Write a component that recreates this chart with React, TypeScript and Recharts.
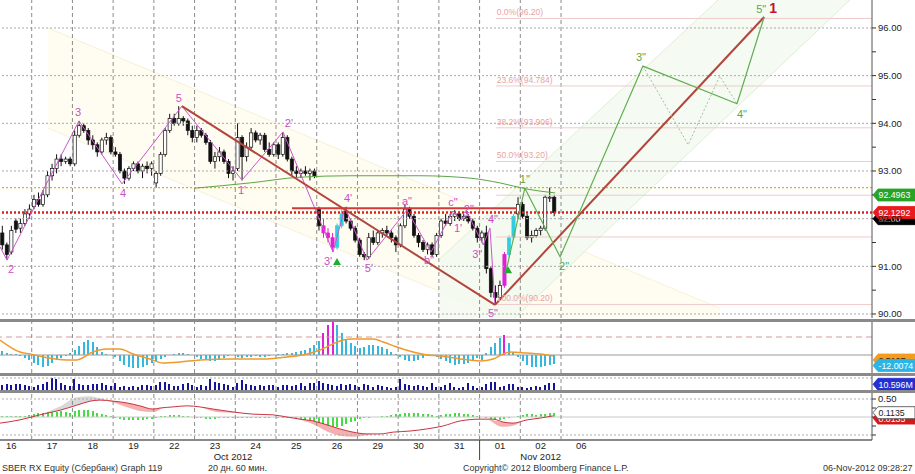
import React from "react";
import {
  ComposedChart,
  Bar,
  Line,
  Area,
  XAxis,
  YAxis,
  ReferenceLine,
  ReferenceDot,
} from "recharts";

// x unit = one hourly bar ("slot"), 9 bars per session, slot 0 = first bar of 16 Oct
const dayLabels = ["16", "17", "18", "19", "22", "23", "24", "25", "26", "29", "30", "31", "01", "02", "06"];
const monthLabels = [
  { x: 53, t: "Oct 2012" },
  { x: 121, t: "Nov 2012" },
];
const MONTH_SPLIT = 107.5;
const FIRST_SLOT = 2;
const X_DOMAIN: [number, number] = [1.49, 194.24];

// open, high, low, close per hourly bar (slots 2..124)
const ohlc: number[][] = [
  [91.7, 91.85, 91.35, 91.45], [91.45, 91.5, 91.14, 91.25], [91.3, 91.85, 91.25, 91.75], [91.95, 92.0, 91.7, 91.78],
  [91.8, 92.0, 91.7, 91.9], [91.9, 92.2, 91.85, 92.1], [92.1, 92.3, 92.0, 92.2],
  [92.25, 92.5, 92.2, 92.4], [92.4, 92.55, 92.25, 92.3], [92.3, 92.6, 92.25, 92.5], [92.5, 93.0, 92.45, 92.9],
  [92.9, 93.15, 92.8, 93.05], [93.05, 93.35, 92.95, 93.25], [93.25, 93.35, 93.1, 93.2], [93.2, 93.3, 93.15, 93.25],
  [93.25, 93.3, 93.1, 93.15],
  [93.15, 93.85, 93.1, 93.75], [93.75, 94.05, 93.7, 93.95], [93.95, 94.0, 93.8, 93.85], [93.85, 93.9, 93.55, 93.65],
  [93.65, 93.75, 93.45, 93.55], [93.55, 93.6, 93.3, 93.4], [93.4, 93.7, 93.35, 93.65], [93.65, 93.8, 93.55, 93.7],
  [93.7, 93.75, 93.35, 93.4],
  [93.4, 93.5, 93.3, 93.35], [93.35, 93.4, 92.95, 93.0], [93.0, 93.05, 92.73, 92.85], [92.85, 93.1, 92.8, 93.05],
  [93.05, 93.2, 93.0, 93.15], [93.15, 93.2, 92.95, 93.0], [93.0, 93.15, 92.85, 93.1], [93.1, 93.2, 92.95, 93.05],
  [93.05, 93.2, 92.9, 93.15],
  [92.75, 93.0, 92.65, 92.95], [92.95, 93.4, 92.9, 93.35], [93.35, 93.9, 93.3, 93.85], [93.85, 94.2, 93.8, 94.1],
  [94.1, 94.2, 93.95, 94.0], [94.0, 94.36, 93.95, 94.1], [94.1, 94.15, 93.95, 94.05], [94.05, 94.1, 93.75, 93.85],
  [93.85, 93.95, 93.6, 93.7],
  [93.7, 93.95, 93.6, 93.85], [93.85, 93.9, 93.7, 93.75], [93.75, 93.8, 93.55, 93.6], [93.6, 93.65, 93.15, 93.2],
  [93.2, 93.4, 93.05, 93.3], [93.3, 93.5, 93.2, 93.4], [93.4, 93.45, 93.15, 93.2], [93.2, 93.25, 92.85, 92.95],
  [92.95, 93.1, 92.8, 93.0],
  [93.05, 94.0, 93.0, 93.7], [93.7, 93.75, 92.8, 93.3], [93.3, 93.6, 93.2, 93.5], [93.5, 93.9, 93.45, 93.8],
  [93.8, 93.85, 93.6, 93.65], [93.65, 93.8, 93.55, 93.75], [93.75, 93.8, 93.4, 93.45], [93.45, 93.6, 93.3, 93.35],
  [93.35, 93.6, 93.3, 93.55],
  [93.55, 93.6, 93.25, 93.35], [93.35, 93.8, 93.3, 93.7], [93.7, 93.75, 93.2, 93.25], [93.25, 93.3, 92.9, 93.0],
  [93.0, 93.1, 92.85, 92.95], [92.95, 93.05, 92.85, 93.0], [93.0, 93.1, 92.9, 92.95], [92.95, 93.05, 92.8, 93.0],
  [93.0, 93.05, 92.85, 92.9],
  [92.2, 92.25, 91.75, 91.85], [91.85, 92.0, 91.6, 91.7], [91.7, 91.8, 91.5, 91.6], [91.6, 91.7, 91.3, 91.4],
  [91.4, 91.9, 91.35, 91.85], [91.85, 92.2, 91.8, 92.1], [92.15, 92.25, 91.9, 91.95], [91.95, 92.0, 91.75, 91.8],
  [91.8, 91.85, 91.5, 91.55],
  [91.55, 91.6, 91.2, 91.25], [91.25, 91.3, 91.13, 91.2], [91.2, 91.7, 91.15, 91.6], [91.6, 91.75, 91.45, 91.5],
  [91.5, 91.75, 91.45, 91.7], [91.7, 91.8, 91.6, 91.75], [91.75, 91.85, 91.65, 91.7], [91.7, 91.75, 91.5, 91.6],
  [91.6, 91.65, 91.3, 91.45],
  [91.45, 91.9, 91.4, 91.85], [91.85, 92.3, 91.8, 92.2], [92.2, 92.25, 92.0, 92.05], [92.05, 92.1, 91.6, 91.65],
  [91.65, 91.7, 91.4, 91.5], [91.5, 91.55, 91.3, 91.35], [91.35, 91.5, 91.25, 91.45], [91.45, 91.5, 91.2, 91.25],
  [91.25, 91.7, 91.2, 91.65],
  [91.65, 92.0, 91.6, 91.95], [91.95, 92.1, 91.85, 91.9], [91.9, 92.1, 91.85, 92.05], [92.05, 92.18, 91.95, 92.1],
  [92.1, 92.15, 91.95, 92.0], [92.0, 92.1, 91.95, 92.05], [92.05, 92.1, 91.9, 91.95], [91.95, 92.0, 91.75, 91.8],
  [91.8, 91.85, 91.5, 91.6],
  [91.6, 91.75, 91.5, 91.7], [91.7, 91.85, 90.85, 90.95], [90.95, 91.0, 90.35, 90.45], [90.45, 90.6, 90.19, 90.35],
  [90.35, 90.7, 90.3, 90.6], [90.6, 91.3, 90.55, 91.25], [91.25, 91.65, 91.2, 91.6], [91.6, 92.1, 91.55, 92.05],
  [92.1, 92.45, 92.0, 92.3],
  [92.3, 92.35, 92.0, 92.05], [92.05, 92.1, 91.55, 91.6], [91.6, 91.75, 91.5, 91.65], [91.65, 91.8, 91.6, 91.75],
  [91.75, 91.85, 91.65, 91.8], [91.8, 92.5, 91.75, 92.45], [92.45, 92.65, 92.35, 92.45], [92.45, 92.5, 92.05, 92.13],
];

// volume, mln shares
const volume = [
  7.5, 9, 7.5, 9, 8.5, 7.5, 6,
  5, 7.5, 8.5, 12.5, 17.5, 16.5, 10, 7.5, 6,
  16, 8.5, 7.5, 7.5, 8.5, 8.5, 10, 7.5, 6,
  10, 5, 6.5, 4, 6.5, 5, 7.5, 7.5, 6.5,
  7.5, 12.5, 11.5, 8.5, 6.5, 6, 8.5, 10, 7.5,
  5, 7.5, 6.5, 16.5, 11.5, 10, 8.5, 7.5, 5,
  10, 15, 8.5, 7.5, 6.5, 7.5, 6, 7.5, 7.5,
  5, 7.5, 7.5, 6.5, 7.5, 10, 6.5, 10, 10,
  13.5, 10, 8.5, 7.5, 6, 9, 7.5, 9, 7.5,
  5, 8.5, 7.5, 5, 7.5, 6, 5, 3.5, 5,
  16.5, 8.5, 7.5, 6, 7.5, 6.5, 5, 10, 5,
  5, 7.5, 10, 5, 3.5, 5, 10, 6, 3.5,
  5, 9, 12.5, 11.5, 5, 6, 8.5, 8.5, 5,
  5, 3.5, 5, 6, 4, 7.5, 11, 10.6,
];

const macdHist = [
  4, 2, 1, 1, -1, -3, -5,
  -8, -10, -12, -11, -8, -5, -3, -1, 2,
  5, 9, 13, 15, 13, 8, 3, 1, 0,
  -2, -6, -10, -12, -13, -13, -12, -10, -8,
  -6, -4, -2, 0, 1, 2, 2, 1, 0,
  -2, -4, -5, -6, -6, -5, -3, -1, 0,
  -2, -3, -2, -2, -1, -2, -2, -1, 0,
  1, 1, 2, 2, 3, 4, 5, 7, 10,
  14, 22, 30, 33, 30, 22, 15, 12, 9,
  7, 8, 10, 10, 9, 8, 6, 3, 1,
  -2, -5, -6, -6, -5, -3, -1, 0, -2,
  -4, -6, -8, -10, -9, -9, -8, -5, -3,
  -5, 2, 8, 12, 17, 20, 12, 3, -2,
  -6, -10, -12, -12, -12, -11, -10, -9,
];

const oscHist = [
  0.02, 0.02, 0.02, 0.02, 0.03, 0.03, 0.05,
  0.08, 0.1, 0.11, 0.13, 0.14, 0.15, 0.16, 0.14, 0.1,
  0.17, 0.19, 0.2, 0.19, 0.16, 0.12, 0.08, 0.05, 0.03,
  -0.03, -0.06, -0.08, -0.09, -0.09, -0.09, -0.08, -0.06, -0.05,
  -0.02, 0.02, 0.04, 0.06, 0.06, 0.05, 0.04, 0.03, 0.01,
  -0.02, -0.04, -0.05, -0.05, -0.05, -0.04, -0.04, -0.03, -0.02,
  -0.02, -0.03, -0.03, -0.03, -0.02, -0.02, -0.02, -0.01, 0,
  -0.01, -0.02, -0.03, -0.04, -0.05, -0.06, -0.07, -0.09, -0.12,
  -0.16, -0.2, -0.24, -0.27, -0.27, -0.24, -0.2, -0.15, -0.1,
  -0.06, -0.03, -0.01, 0, 0.01, 0.02, 0.04, 0.06, 0.07,
  0.08, 0.1, 0.11, 0.11, 0.1, 0.09, 0.08, 0.06, 0.04,
  0.05, 0.07, 0.09, 0.1, 0.1, 0.09, 0.07, 0.05, 0.03,
  0.01, -0.02, -0.05, -0.07, -0.08, -0.06, -0.03, 0.01, 0.04,
  0.06, 0.07, 0.07, 0.06, 0.07, 0.08, 0.1, 0.11,
];

const magentaSlots = [73, 74, 75, 113];
const cyanSlots = [76, 77, 114, 115];
const macdMagenta = [73, 74, 75, 113];

// overlays: [slot, price]
const maLine = [[44.6, 92.64], [56.8, 92.75], [67.8, 92.87], [78.9, 92.9], [94.3, 92.9], [105.4, 92.85], [112, 92.75], [118, 92.62], [124.2, 92.54]];
const zigzag = [
  [1.49, 91.41], [3.04, 91.13], [18.95, 94.05], [28.46, 92.73], [41.7, 94.36], [54.98, 92.81], [64.04, 93.82],
  [75.1, 91.3], [77.75, 92.24], [82.6, 91.13], [91.45, 92.18], [96.76, 91.3], [101.6, 92.16], [103.4, 91.97],
  [104.9, 92.1], [108.3, 91.45], [109.8, 91.8], [110.9, 90.19],
];
const redDown = [[41.7, 94.36], [110.9, 90.19]];
const redUp = [[110.9, 90.19], [170.4, 96.23]];
const neckline = [[66.03, 92.22], [115.77, 92.22]];
const projection = [[113.3, 90.88], [117.5, 92.64], [125.3, 91.2], [143.6, 95.2], [164.4, 94.41], [170.4, 96.23]];
const projectionAlt = [[143.6, 95.2], [153.6, 93.55], [160.6, 94.99], [164.4, 94.41]];
const yellowChannel = [[12.1, 93.9, 96.0], [160.6, 88.02, 90.12]];
const greenChannel = [[98.75, 88.43, 91.16], [194.24, 97.03, 99.59]];
const fibLevels = [96.2, 94.784, 93.906, 93.2, 92.492, 91.616, 90.2];
const fibLabels = ["0.0%(96.20)", "23.6%(94.784)", "38.2%(93.906)", "50.0%(93.20)", "", "", "100.0%(90.20)"];
const FIB_START = 111.1;

const waveLabels: [number, number, string, number, number][] = [
  [3.04, 91.13, "2", 4, 9], [18.95, 94.05, "3", -1, -9], [28.46, 92.73, "4", 1, 9], [41.7, 94.36, "5", -3, -8],
  [54.98, 92.81, "1'", 0, 10], [64.04, 93.82, "2'", 6, -9], [75.1, 91.3, "3'", -5, 9], [77.75, 92.24, "4'", 3, -9],
  [82.6, 91.13, "5'", 2, 8], [91.45, 92.18, "a\"", 0, -9], [96.76, 91.3, "b\"", -2, 8], [101.6, 92.16, "c\"", 0, -9],
  [103.4, 91.97, "1'", -3, 8], [104.9, 92.1, "2\"", 1, -5], [108.3, 91.45, "3\"", -6, 9], [109.8, 91.8, "4\"", 3, -9],
  [110.9, 90.19, "5\"", -2, 8],
];
const projLabels: [number, number, string, number, number][] = [
  [117.5, 92.64, "1\"", 0, -9], [125.3, 91.2, "2\"", 4, 9], [143.6, 95.2, "3\"", -2, -9],
  [164.4, 94.41, "4\"", 5, 10], [170.4, 96.23, "5\"", -3, -8],
];
const markers = [[75.98, 91.09], [113.8, 90.92]];

const priceTicks = [90, 90.5, 91, 91.5, 92, 92.5, 93, 93.5, 94, 94.5, 95, 95.5, 96];

const bars = ohlc.map(([o, h, l, c], k) => ({
  x: FIRST_SLOT + k,
  o,
  h,
  l,
  c,
  range: [l, h],
  vol: volume[k] ?? 0,
  hist: macdHist[k] ?? 0,
  osc: oscHist[k] ?? 0,
}));
const pts = (a: number[][]) => a.map(([x, y]) => ({ x, y }));
const band = (a: number[][]) => a.map(([x, lo, hi]) => ({ x, r: [lo, hi] }));

const macdSignal = pts([
  [1.49, 15], [5.9, 3], [8.1, 1], [11, -2], [16.3, -5], [18.5, -5], [22, 3], [25.1, 6], [28, 6], [30.9, 1],
  [34.6, -4], [37.5, -8], [41.3, -7], [45.7, -5], [53, -4], [60.5, -4], [64.9, -2], [69.4, 1], [72.2, 5],
  [75.1, 11], [77.3, 15], [79.5, 16], [84, 16], [86.2, 13], [89.2, 8], [92.8, 3], [95.9, 0], [98.75, -1],
  [103.2, -4], [107.6, -6], [110.5, -4], [112.7, 1], [114.2, 3], [118, 2], [120.9, 1], [123.7, -1],
]);
const oscLine = pts([
  [1.49, -0.17], [5.9, -0.08], [10.3, 0.06], [14.8, 0.19], [18.5, 0.33], [21.4, 0.44], [23.6, 0.47], [26.5, 0.44],
  [29.6, 0.39], [32.4, 0.31], [35.3, 0.22], [36.9, 0.25], [39.7, 0.28], [42.8, 0.31], [45.7, 0.28], [48.6, 0.22],
  [53, 0.14], [57.4, 0.08], [61.8, 0.06], [64.9, 0], [67.8, -0.06], [70.7, -0.11], [73.8, -0.22], [76.6, -0.33],
  [79.5, -0.42], [82.6, -0.47], [85.5, -0.47], [88.4, -0.42], [92.1, -0.39], [95.9, -0.33], [99.4, -0.25],
  [103.2, -0.11], [107.6, -0.06], [110.5, -0.06], [112.7, -0.14], [114.9, -0.17], [118, -0.08], [120.9, -0.03],
  [123.7, 0.03],
]);
const oscGray = band([[10.3, 0.06, 0.07], [14.8, 0.19, 0.3], [18.5, 0.33, 0.55], [21.4, 0.44, 0.58], [23.6, 0.47, 0.52], [25.5, 0.46, 0.46]]);
const oscPink = [
  band([[25.5, 0.45, 0.46], [29.6, 0.27, 0.39], [32.4, 0.17, 0.31], [35.3, 0.14, 0.22], [37.5, 0.26, 0.26]]),
  band([[46, 0.27, 0.28], [50, 0.13, 0.19], [55, 0.11, 0.11]]),
  band([[66.5, -0.03, -0.03], [70.7, -0.2, -0.11], [73.8, -0.4, -0.22], [76.6, -0.52, -0.33], [79.5, -0.55, -0.42], [82.6, -0.5, -0.47], [84, -0.47, -0.47]]),
  band([[109.5, -0.06, -0.06], [112.7, -0.27, -0.14], [114.9, -0.24, -0.17], [117, -0.11, -0.11]]),
];

const dayBounds = dayLabels.slice(1).map((_, d) => 9 * (d + 1) - 0.5);
const dayCenters = dayLabels.map((_, d) => 9 * d + 4);
const W = 915;
const ZERO = { top: 0, right: 0, bottom: 0, left: 0 };

function Candle(props: any) {
  const { x, y, width, height, payload } = props;
  if (!payload) return null;
  const { o, h, l, c } = payload;
  const top = Math.min(y, y + height);
  const span = Math.abs(height);
  const k = h > l ? span / (h - l) : 0;
  const cx = x + width / 2;
  const yo = top + (h - o) * k;
  const yc = top + (h - c) * k;
  let fill = c >= o ? "#ffffff" : "#111111";
  let stroke = "#111111";
  if (magentaSlots.includes(payload.x)) {
    fill = stroke = "#e021d6";
  } else if (cyanSlots.includes(payload.x)) {
    fill = stroke = "#2fcfe0";
  }
  return (
    <g>
      <line x1={cx} x2={cx} y1={top} y2={top + span} stroke={stroke} strokeWidth={1} />
      <rect x={cx - 1.6} y={Math.min(yo, yc)} width={3.2} height={Math.max(1, Math.abs(yc - yo))} fill={fill} stroke={stroke} strokeWidth={0.7} />
    </g>
  );
}

// thin histogram column centred on its slot
const column = (color: (p: any) => string, w: number) => (props: any) => {
  const { x, y, width, height, payload } = props;
  if (!payload || !height) return null;
  const top = Math.min(y, y + height);
  const cx = Math.round(x + width / 2);
  return <rect x={cx - w / 2} y={top} width={w} height={Math.max(0.8, Math.abs(height))} fill={color(payload)} shapeRendering="crispEdges" />;
};

const textShape = (t: string, color: string, dx: number, dy: number, size = 11, weight = 400, anchor = "middle") => (p: any) => (
  <text x={p.cx + dx} y={p.cy + dy} fill={color} fontSize={size} fontWeight={weight} textAnchor={anchor} dominantBaseline="central">
    {t}
  </text>
);

const tagShape = (t: string, bg: string, fg: string, border?: string) => (p: any) => {
  const x = p.cx + 1;
  const y = p.cy;
  const h = 12;
  const w = 42;
  return (
    <g>
      <polygon
        points={`${x},${y} ${x + 5},${y - h / 2} ${x + w},${y - h / 2} ${x + w},${y + h / 2} ${x + 5},${y + h / 2}`}
        fill={bg}
        stroke={border ?? bg}
        strokeWidth={0.8}
      />
      <text x={x + 5.5} y={y + 0.5} fill={fg} fontSize={8.8} dominantBaseline="central">
        {t}
      </text>
    </g>
  );
};

const triangle = (p: any) => (
  <polygon points={`${p.cx},${p.cy - 4} ${p.cx + 4},${p.cy + 3} ${p.cx - 4},${p.cy + 3}`} fill="#1fae2f" />
);

const dayLines = (id: string) =>
  dayBounds.map((x) => <ReferenceLine key={id + x} x={x} stroke="#8c8c8c" strokeDasharray="4 3" />);

const hiddenX = <XAxis type="number" dataKey="x" domain={X_DOMAIN} hide allowDataOverflow />;

function DayTick(props: any) {
  const { x, y, payload } = props;
  if (payload.value === MONTH_SPLIT) {
    return <line x1={x} x2={x} y1={y} y2={y + 20} stroke="#444" />;
  }
  const i = dayCenters.indexOf(payload.value);
  return (
    <text x={x} y={y + 9} textAnchor="middle" fontSize={9.5} fill="#222">
      {dayLabels[i]}
    </text>
  );
}

function MonthTick(props: any) {
  const { x, y, payload } = props;
  const m = monthLabels.find((d) => d.x === payload.value);
  return (
    <text x={x} y={y + 8} textAnchor="middle" fontSize={9.5} fill="#222">
      {m ? m.t : ""}
    </text>
  );
}

const sep = (top: number) => (
  <div style={{ position: "absolute", left: 0, top, width: W, height: 3, background: "#8a8a8a" }} />
);

export default function App() {
  return (
    <div
      style={{
        position: "absolute",
        left: 0,
        top: 0,
        width: W,
        height: 474,
        background: "#fff",
        fontFamily: "'Liberation Sans', Arial, sans-serif",
        overflow: "hidden",
      }}
    >
      {/* price panel */}
      <div style={{ position: "absolute", left: 0, top: 0 }}>
        <ComposedChart width={W} height={318} data={bars} margin={ZERO}>
          {hiddenX}
          <YAxis
            orientation="right"
            type="number"
            domain={[89.916, 96.587]}
            ticks={priceTicks}
            interval={0}
            tickFormatter={(v: number) => (v % 1 === 0 ? v.toFixed(2) : "")}
            width={43}
            tickSize={4}
            tick={{ fontSize: 9.5, fill: "#222" }}
            axisLine={{ stroke: "#555" }}
            tickLine={{ stroke: "#333" }}
            allowDataOverflow
          />
          <Area data={band(yellowChannel)} dataKey="r" type="linear" stroke="#f7f1d8" fill="#fffbec" fillOpacity={0.7} dot={false} activeDot={false} isAnimationActive={false} />
          <Area data={band(greenChannel)} dataKey="r" type="linear" stroke="#dcefd6" fill="#f2faef" fillOpacity={0.75} dot={false} activeDot={false} isAnimationActive={false} />
          {priceTicks.filter((v) => v % 1 === 0).map((v) => (
            <ReferenceLine key={"g" + v} y={v} stroke="#a8a8a8" strokeDasharray="2 2" />
          ))}
          {dayLines("p")}
          {fibLevels.map((v) => (
            <ReferenceLine key={"f" + v} segment={[{ x: FIB_START, y: v }, { x: X_DOMAIN[1], y: v }]} stroke="#f0caca" />
          ))}
          {fibLevels.map((v, i) =>
            fibLabels[i] ? (
              <ReferenceDot key={"fl" + v} x={FIB_START + 0.2} y={v} r={0} ifOverflow="visible" shape={textShape(fibLabels[i], "#eaa2a2", 0, -6, 8.5, 400, "start")} />
            ) : null
          )}
          <ReferenceLine y={92.65} stroke="#e2b400" strokeDasharray="2 2" strokeWidth={1.3} />
          <ReferenceLine y={92.13} stroke="#dd1f1f" strokeDasharray="2 2" strokeWidth={2.5} />
          <Line data={pts(maLine)} dataKey="y" type="monotone" stroke="#5aa645" strokeWidth={1} dot={false} activeDot={false} isAnimationActive={false} />
          <Line data={pts(zigzag)} dataKey="y" type="linear" stroke="#cc55cc" strokeWidth={1} dot={false} activeDot={false} isAnimationActive={false} />
          <Bar dataKey="range" barSize={3} shape={Candle} isAnimationActive={false} />
          <Line data={pts(redDown)} dataKey="y" type="linear" stroke="#b3453c" strokeWidth={2} dot={false} activeDot={false} isAnimationActive={false} />
          <Line data={pts(neckline)} dataKey="y" type="linear" stroke="#d33a3a" strokeWidth={2} dot={false} activeDot={false} isAnimationActive={false} />
          <Line data={pts(redUp)} dataKey="y" type="linear" stroke="#b3453c" strokeWidth={2} dot={false} activeDot={false} isAnimationActive={false} />
          <Line data={pts(projectionAlt)} dataKey="y" type="linear" stroke="#9cc39a" strokeWidth={1} strokeDasharray="2 2" dot={false} activeDot={false} isAnimationActive={false} />
          <Line data={pts(projection)} dataKey="y" type="linear" stroke="#62ad50" strokeWidth={1.2} dot={false} activeDot={false} isAnimationActive={false} />
          {markers.map(([x, y]) => (
            <ReferenceDot key={"m" + x} x={x} y={y} r={0} shape={triangle} />
          ))}
          {waveLabels.map(([x, y, t, dx, dy]) => (
            <ReferenceDot key={"w" + x} x={x} y={y} r={0} ifOverflow="visible" shape={textShape(t, "#c94fc9", dx, dy)} />
          ))}
          {projLabels.map(([x, y, t, dx, dy]) => (
            <ReferenceDot key={"pl" + x} x={x} y={y} r={0} ifOverflow="visible" shape={textShape(t, "#5aa84a", dx, dy)} />
          ))}
          <ReferenceDot x={170.4} y={96.23} r={0} ifOverflow="visible" shape={textShape("1", "#c8102e", 9, -9, 14, 700)} />
          <ReferenceDot x={X_DOMAIN[1]} y={92.0} r={0} ifOverflow="visible" shape={tagShape("92.00", "#000", "#fff")} />
          <ReferenceDot x={X_DOMAIN[1]} y={92.1292} r={0} ifOverflow="visible" shape={tagShape("92.1292", "#e81c1c", "#fff")} />
          <ReferenceDot x={X_DOMAIN[1]} y={92.4963} r={0} ifOverflow="visible" shape={tagShape("92.4963", "#27a327", "#fff")} />
        </ComposedChart>
      </div>
      {sep(319)}

      {/* oscillator histogram panel */}
      <div style={{ position: "absolute", left: 0, top: 322 }}>
        <ComposedChart width={W} height={51} data={bars} margin={ZERO}>
          {hiddenX}
          <YAxis orientation="right" type="number" domain={[-18, 33]} tick={false} tickLine={false} width={43} axisLine={{ stroke: "#555" }} allowDataOverflow />
          <ReferenceLine y={0} stroke="#9a9a9a" />
          <ReferenceLine y={18} stroke="#d59a9a" strokeDasharray="6 4" />
          {dayLines("h")}
          <Bar
            dataKey="hist"
            barSize={3}
            isAnimationActive={false}
            shape={column((p) => (macdMagenta.includes(p.x) ? "#e021d6" : "#35b8e0"), 2)}
          />
          <Line data={macdSignal} dataKey="y" type="monotone" stroke="#ef9a2a" strokeWidth={1.5} dot={false} activeDot={false} isAnimationActive={false} />
          <ReferenceDot x={X_DOMAIN[1]} y={-5} r={0} ifOverflow="visible" shape={tagShape("2.5107", "#f39c1f", "#222")} />
          <ReferenceDot x={X_DOMAIN[1]} y={-10.5} r={0} ifOverflow="visible" shape={tagShape("-12.0074", "#2bb5e6", "#fff")} />
        </ComposedChart>
      </div>
      {sep(373)}

      {/* volume panel */}
      <div style={{ position: "absolute", left: 0, top: 376 }}>
        <ComposedChart width={W} height={14} data={bars} margin={ZERO}>
          {hiddenX}
          <YAxis orientation="right" type="number" domain={[0, 21]} tick={false} tickLine={false} width={43} axisLine={{ stroke: "#555" }} allowDataOverflow />
          <ReferenceLine y={18} stroke="#aaa" strokeDasharray="2 2" />
          {dayLines("v")}
          <Bar dataKey="vol" barSize={2} isAnimationActive={false} shape={column(() => "#15159c", 2)} />
          <ReferenceDot x={X_DOMAIN[1]} y={8.5} r={0} ifOverflow="visible" shape={tagShape("10.596M", "#2430d0", "#fff")} />
        </ComposedChart>
      </div>
      {sep(390)}

      {/* momentum panel + date axis */}
      <div style={{ position: "absolute", left: 0, top: 393 }}>
        <ComposedChart width={W} height={73} data={bars} margin={ZERO}>
          <XAxis
            type="number"
            dataKey="x"
            domain={X_DOMAIN}
            allowDataOverflow
            ticks={[...dayCenters, MONTH_SPLIT]}
            tick={DayTick}
            tickSize={0}
            tickMargin={0}
            height={12}
            interval={0}
            axisLine={{ stroke: "#8a8a8a", strokeWidth: 2 }}
          />
          <XAxis
            xAxisId="m"
            type="number"
            dataKey="x"
            domain={X_DOMAIN}
            allowDataOverflow
            ticks={monthLabels.map((m) => m.x)}
            tick={MonthTick}
            tickSize={0}
            tickMargin={0}
            height={14}
            interval={0}
            axisLine={false}
          />
          <YAxis
            orientation="right"
            type="number"
            domain={[-0.639, 0.667]}
            ticks={[-0.5, -0.25, 0, 0.25, 0.5]}
            interval={0}
            tickFormatter={(v: number) => (v === 0.5 ? "0.50" : "")}
            width={43}
            tickSize={4}
            tick={{ fontSize: 9.5, fill: "#222" }}
            axisLine={{ stroke: "#555" }}
            tickLine={{ stroke: "#333" }}
            allowDataOverflow
          />
          <ReferenceLine y={0.5} stroke="#aaa" strokeDasharray="2 2" />
          <ReferenceLine y={-0.5} stroke="#aaa" strokeDasharray="2 2" />
          <ReferenceLine y={0} stroke="#c8c8c8" />
          {dayLines("o")}
          <Area data={oscGray} dataKey="r" type="monotone" stroke="none" fill="#cfcfcf" fillOpacity={0.8} dot={false} activeDot={false} isAnimationActive={false} />
          {oscPink.map((b, i) => (
            <Area key={"pk" + i} data={b} dataKey="r" type="monotone" stroke="none" fill="#f4a6a6" fillOpacity={0.9} dot={false} activeDot={false} isAnimationActive={false} />
          ))}
          <Bar dataKey="osc" barSize={2} isAnimationActive={false} shape={column(() => "#44dd44", 2)} />
          <Line data={oscLine} dataKey="y" type="monotone" stroke="#c9343f" strokeWidth={1} dot={false} activeDot={false} isAnimationActive={false} />
          <ReferenceDot x={X_DOMAIN[1]} y={-0.03} r={0} ifOverflow="visible" shape={tagShape("0.0135", "#d01c1c", "#fff")} />
          <ReferenceDot x={X_DOMAIN[1]} y={0.12} r={0} ifOverflow="visible" shape={tagShape("0.1135", "#fff", "#222", "#444")} />
        </ComposedChart>
      </div>

      {/* footer */}
      <div style={{ position: "absolute", top: 462, left: 0, width: W, height: 12, fontSize: 9, color: "#333", lineHeight: "12px" }}>
        <span style={{ position: "absolute", left: 2 }}>SBER RX Equity (Сбербанк) Graph 119</span>
        <span style={{ position: "absolute", left: 208 }}>20 дн. 60 мин.</span>
        <span style={{ position: "absolute", left: 463 }}>Copyright© 2012 Bloomberg Finance L.P.</span>
        <span style={{ position: "absolute", left: 823 }}>06-Nov-2012 09:28:27</span>
      </div>
    </div>
  );
}
